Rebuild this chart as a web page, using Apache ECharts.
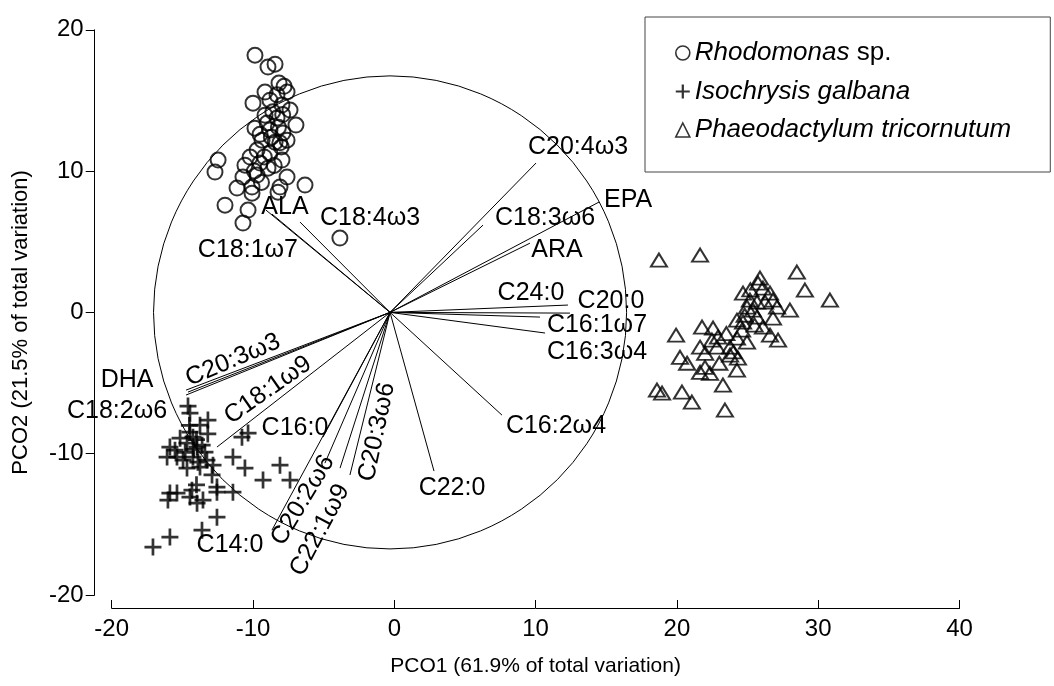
<!DOCTYPE html>
<html><head><meta charset="utf-8">
<script src="https://cdn.jsdelivr.net/npm/echarts@6/dist/echarts.min.js"></script>
<style>html,body{margin:0;padding:0;background:#fff}#c{width:1054px;height:686px}</style>
</head><body><div id="c"></div>
<script>
// ---------- data ----------
const rhodomonas = [[-9.86,18.2],[-8.94,17.36],[-8.44,17.57],[-8.16,16.23],[-9.15,15.59],[-7.59,15.59],[-10.0,14.81],[-8.8,15.02],[-7.95,14.67],[-7.38,14.32],[-9.15,13.96],[-8.3,13.75],[-6.96,13.26],[-9.86,13.04],[-8.8,12.9],[-7.88,12.69],[-9.36,12.19],[-8.44,12.05],[-7.59,12.19],[-9.71,11.49],[-8.8,11.27],[-10.2,10.99],[-12.47,10.78],[-12.69,9.93],[-10.57,10.42],[-9.5,10.57],[-8.94,10.21],[-7.95,10.78],[-10.71,9.58],[-9.71,9.72],[-7.59,9.58],[-11.13,8.8],[-10.07,8.87],[-10.07,8.44],[-8.09,8.87],[-6.32,9.01],[-11.98,7.59],[-10.35,7.24],[-10.71,6.32],[-8.23,8.51],[-3.85,5.26],[-8.6,14.2],[-9.0,13.4],[-8.2,13.1],[-9.5,12.6],[-8.0,11.7],[-9.2,11.0],[-8.5,10.4],[-9.9,10.0],[-8.3,15.4],[-7.8,16.0],[-8.7,12.4],[-9.4,9.2],[-8.1,12.0],[-7.9,14.0]];
const isochrysis = [[-14.6,-6.63],[-14.46,-7.13],[-13.19,-7.62],[-13.75,-7.98],[-14.46,-8.47],[-15.16,-8.9],[-16.08,-10.24],[-15.52,-9.75],[-14.67,-9.25],[-13.96,-9.53],[-13.4,-9.89],[-14.25,-10.24],[-14.95,-10.45],[-13.26,-10.45],[-13.75,-10.95],[-14.67,-11.02],[-12.83,-10.81],[-11.42,-10.24],[-10.57,-11.02],[-10.78,-8.83],[-10.35,-8.54],[-9.29,-11.87],[-8.09,-10.81],[-7.38,-11.87],[-15.88,-12.79],[-16.02,-13.28],[-15.38,-12.79],[-14.46,-13.07],[-13.96,-13.5],[-13.54,-13.28],[-12.55,-12.36],[-12.55,-12.72],[-11.42,-12.72],[-12.55,-14.49],[-13.61,-15.41],[-15.88,-15.9],[-17.08,-16.61],[-14.32,-12.58],[-15.38,-10.24],[-14.25,-8.83],[-15.88,-9.53],[-14.0,-9.0],[-14.8,-9.9],[-13.6,-9.4],[-14.2,-9.7],[-13.9,-10.6],[-14.5,-8.0],[-13.2,-8.6],[-12.9,-11.5],[-14.0,-12.2]];
const phaeodactylum = [[18.73,3.7],[21.64,4.06],[28.49,2.85],[29.06,1.58],[30.83,0.87],[28.0,0.16],[25.74,2.07],[26.09,1.72],[26.59,1.37],[24.68,1.37],[25.17,0.87],[25.67,0.73],[26.24,0.73],[26.8,0.87],[27.09,0.38],[24.96,0.38],[25.38,0.16],[24.25,-0.55],[24.68,-0.69],[25.67,-0.33],[26.09,-1.04],[26.59,-1.61],[27.16,-1.96],[24.61,-1.25],[24.25,-1.82],[24.96,-2.1],[23.76,-2.46],[24.32,-3.23],[24.25,-4.08],[23.26,-5.14],[19.94,-1.61],[21.78,-1.04],[22.56,-1.11],[22.91,-1.75],[22.48,-1.96],[21.64,-2.46],[22.84,-2.46],[20.22,-3.18],[20.72,-3.6],[21.99,-3.89],[22.34,-4.31],[21.64,-4.24],[18.59,-5.5],[18.95,-5.71],[20.36,-5.64],[21.06,-6.35],[23.4,-6.91],[23.76,-3.02],[25.88,2.43],[25.2,1.6],[24.8,-0.2],[23.5,-1.5],[24.0,-2.8],[22.0,-2.9],[23.0,-3.6],[25.5,-0.9],[26.8,-0.4]];

const vectorNames = ['C20:4ω3','EPA','C18:3ω6','ARA','C24:0','C20:0','C16:1ω7','C16:3ω4','C16:2ω4','C22:0','C20:3ω6','C22:1ω9','C20:2ω6','C16:0','C14:0','C18:1ω9','C20:3ω3','DHA','C18:2ω6','ALA','C18:1ω7','C18:4ω3'];
const vectorX = [10.03,14.49,6.28,9.6,12.29,12.43,10.31,10.67,7.62,2.81,-3.14,-3.84,-4.91,-5.05,-8.66,-12.55,-14.6,-14.74,-14.74,-9.08,-8.66,-6.67];
const vectorY = [10.57,7.81,6.18,4.9,0.52,-0.05,-0.33,-1.46,-7.27,-11.23,-11.51,-11.02,-10.67,-8.83,-15.41,-9.53,-5.64,-5.5,-5.85,7.24,6.96,6.39];
const vectorOrigin = [-0.3, 0];
const circleRadius = 16.74;

const seriesNames = ['Rhodomonas sp.','Isochrysis galbana','Phaeodactylum tricornutum'];
const xTitle = 'PCO1 (61.9% of total variation)';
const yTitle = 'PCO2 (21.5% of total variation)';

// ---------- label layout (pixel offset from vector tip, rotation in degrees) ----------
const labelLayout = {
  'C20:4ω3':[42,-16,0],'EPA':[29,-2,0],'C18:3ω6':[62,-7,0],'ARA':[27,7,0],'C24:0':[-37,-12,0],
  'C20:0':[41,-12,0],'C16:1ω7':[57,8,0],'C16:3ω4':[52,19,0],'C16:2ω4':[54,11,0],'C22:0':[18,17,0],
  'C20:3ω6':[27,-43,78],'C22:1ω9':[-20,62,62],'C20:2ω6':[-22,37,59],'C16:0':[-28,-9,0],'C14:0':[-42,15,0],
  'C18:1ω9':[51,-57,35],'C20:3ω3':[45,-32,23],'DHA':[-59,-10,0],'C18:2ω6':[-69,16,0],
  'ALA':[19,-3,0],'C18:1ω7':[-24,36,0],'C18:4ω3':[70,-4,0]
};

const FONT = '"Liberation Sans", Arial, sans-serif';
const crossPath = 'path://M4.2,0H5.8V4.2H10V5.8H5.8V10H4.2V5.8H0V4.2H4.2Z';

const chart = echarts.init(document.getElementById('c'), null, {renderer:'canvas'});
const option = {
  animation:false,
  backgroundColor:'#fff',
  grid:{left:111.7, right:94.5, top:29.8, bottom:91},
  xAxis:{
    type:'value', min:-20, max:40, interval:10, offset:13,
    axisLine:{show:true, onZero:false, lineStyle:{color:'#000', width:1}},
    axisTick:{show:true, inside:true, length:8, lineStyle:{color:'#000'}},
    axisLabel:{color:'#000', fontSize:24, fontFamily:FONT, margin:9},
    splitLine:{show:false},
    name:xTitle, nameLocation:'middle', nameGap:48,
    nameTextStyle:{color:'#000', fontSize:21, fontFamily:FONT}
  },
  yAxis:{
    type:'value', min:-20, max:20, interval:10, offset:17,
    axisLine:{show:true, onZero:false, lineStyle:{color:'#000', width:1}},
    axisTick:{show:true, inside:false, length:9, lineStyle:{color:'#000'}},
    axisLabel:{color:'#000', fontSize:24, fontFamily:FONT, margin:11},
    splitLine:{show:false},
    name:yTitle, nameLocation:'middle', nameGap:63,
    nameTextStyle:{color:'#000', fontSize:22, fontFamily:FONT, padding:[0,20,0,0]}
  },
  legend:{
    orient:'vertical', left:645, top:17,
    padding:[23,39,29,30], itemGap:12.5, itemWidth:14, itemHeight:14,
    borderColor:'#444', borderWidth:1, backgroundColor:'#fff',
    textStyle:{color:'#000', fontSize:26, fontFamily:FONT, fontStyle:'italic',
      rich:{n:{fontStyle:'normal', fontSize:26, fontFamily:FONT, color:'#000'}}},
    formatter:function(name){ return name === seriesNames[0] ? 'Rhodomonas{n| sp.}' : name; },
    data:[
      {name:seriesNames[0], icon:'circle', itemStyle:{color:'rgba(0,0,0,0)', borderColor:'#000', borderWidth:1.6}},
      {name:seriesNames[1], icon:crossPath, itemStyle:{color:'#000'}},
      {name:seriesNames[2], icon:'triangle', itemStyle:{color:'rgba(0,0,0,0)', borderColor:'#000', borderWidth:1.6}}
    ]
  },
  series:[
    {
      type:'custom', name:'circle', silent:true, z:1,
      data:[[vectorOrigin[0], vectorOrigin[1]]],
      renderItem:function(params, api){
        const c = api.coord([api.value(0), api.value(1)]);
        const r = api.size([circleRadius, 0])[0];
        return {type:'circle', shape:{cx:c[0], cy:c[1], r:r}, style:{fill:'none', stroke:'#000', lineWidth:1}};
      }
    },
    {
      type:'custom', name:'vectors', silent:true, z:2,
      data:vectorX.map(function(x,i){ return [x, vectorY[i], i]; }),
      renderItem:function(params, api){
        const i = api.value(2);
        const o = api.coord(vectorOrigin);
        const e = api.coord([api.value(0), api.value(1)]);
        const lay = labelLayout[vectorNames[i]];
        return {type:'group', children:[
          {type:'line', shape:{x1:o[0], y1:o[1], x2:e[0], y2:e[1]}, style:{stroke:'#000', lineWidth:1}},
          {type:'text', x:e[0]+lay[0], y:e[1]+lay[1], rotation:lay[2]*Math.PI/180,
           style:{text:vectorNames[i], fill:'#000', font:'25px ' + FONT, align:'center', verticalAlign:'middle'}}
        ]};
      }
    },
    {
      type:'scatter', name:seriesNames[0], data:rhodomonas, symbol:'circle', symbolSize:15, z:3,
      itemStyle:{color:'rgba(0,0,0,0)', borderColor:'#000', borderWidth:2}
    },
    {
      type:'scatter', name:seriesNames[1], data:isochrysis, symbol:crossPath, symbolSize:17, z:3,
      itemStyle:{color:'#000'}
    },
    {
      type:'scatter', name:seriesNames[2], data:phaeodactylum, symbol:'triangle', symbolSize:[16,13], z:3,
      itemStyle:{color:'rgba(0,0,0,0)', borderColor:'#000', borderWidth:2}
    }
  ]
};
chart.setOption(option);
</script></body></html>
